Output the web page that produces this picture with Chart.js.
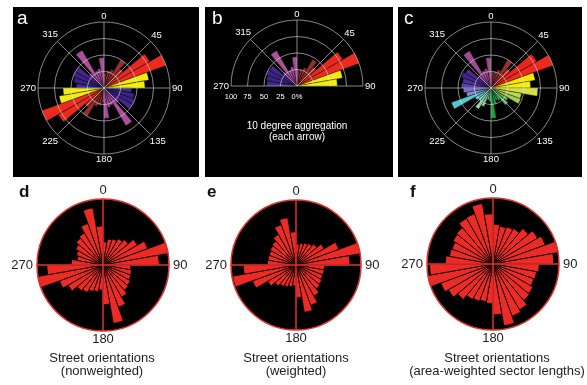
<!DOCTYPE html>
<html lang="en">
<head>
<meta charset="utf-8">
<title>Street orientation roses</title>
<script src="https://cdn.jsdelivr.net/npm/chart.js@4.4.1/dist/chart.umd.min.js"></script>
<style>
  html, body { margin: 0; padding: 0; background: #fff; }
  body { position: relative; width: 587px; height: 385px; overflow: hidden;
         font-family: "Liberation Sans", Arial, Helvetica, sans-serif; }
  .box { position: absolute; }
  .box canvas { position: absolute; left: 0; top: 0; }
  .dark { background: #000; }
  .txt { position: absolute; white-space: nowrap; line-height: 1; }
  .mid { transform: translate(-50%, -50%); text-align: center; }
  .tag { font-size: 19px; color: #fff; }
  .tagb { font-size: 17px; font-weight: bold; color: #111; }
  .cap { font-size: 13px; color: #222; }
  .note { font-size: 10px; color: #fff; }
</style>
</head>
<body>
<div class="box dark" style="left:13px;top:7px;width:186px;height:170px"><canvas id="roseA" width="186" height="170"></canvas></div>
<div class="box dark" style="left:205px;top:7px;width:188px;height:170px"><canvas id="roseB" width="188" height="170"></canvas></div>
<div class="box dark" style="left:398px;top:7px;width:184px;height:170px"><canvas id="roseC" width="184" height="170"></canvas></div>
<div class="box" style="left:8px;top:180px;width:190px;height:170px"><canvas id="roseD" width="190" height="170"></canvas></div>
<div class="box" style="left:201px;top:180px;width:190px;height:170px"><canvas id="roseE" width="190" height="170"></canvas></div>
<div class="box" style="left:398px;top:180px;width:189px;height:170px"><canvas id="roseF" width="189" height="170"></canvas></div>

<div class="txt tag" style="left:17px;top:8px">a</div>
<div class="txt tag" style="left:212px;top:8px">b</div>
<div class="txt tag" style="left:404px;top:8px">c</div>
<div class="txt tagb" style="left:19px;top:183px">d</div>
<div class="txt tagb" style="left:207px;top:183px">e</div>
<div class="txt tagb" style="left:410px;top:183px">f</div>

<div class="txt note mid" style="left:297px;top:126px">10 degree aggregation</div>
<div class="txt note mid" style="left:297px;top:137px">(each arrow)</div>

<div class="txt cap mid" style="left:102px;top:357px">Street orientations</div>
<div class="txt cap mid" style="left:102px;top:370px">(nonweighted)</div>
<div class="txt cap mid" style="left:296px;top:357px">Street orientations</div>
<div class="txt cap mid" style="left:296px;top:370px">(weighted)</div>
<div class="txt cap mid" style="left:497px;top:357px">Street orientations</div>
<div class="txt cap mid" style="left:497px;top:370px">(area-weighted sector lengths)</div>

<script>
// 10-degree bins, labelled by their starting bearing (clockwise from north)
const bins = ['0','10','20','30','40','50','60','70','80','90','100','110',
              '120','130','140','150','160','170','180','190','200','210','220','230',
              '240','250','260','270','280','290','300','310','320','330','340','350'];

// bearing ticks and radial ticks
const compassTicks = [0, 45, 90, 135, 180, 225, 270, 315];
const halfCompassTicks = [270, 315, 0, 45, 90];
const cardinalTicks = [0, 90, 180, 270];
const ringTicks = [25, 50, 75, 100];
const percentTicks = [100, 75, 50, 25, 0];

// share of the largest bin, in percent
const roseAll = [22, 27, 30, 50, 38, 80, 100, 69, 62, 42, 47, 50, 50, 30, 66, 28, 30, 46,
                 22, 27, 30, 50, 38, 80, 100, 69, 62, 42, 47, 50, 50, 30, 66, 28, 30, 46];
const roseHalf = [24, 26, 30, 47, 38, 80, 100, 70, 61, null, null, null, null, null, null, null, null, null,
                  null, null, null, null, null, null, null, null, null, 46, 47, 50, 48, 28, 62, 26, 30, 44];
const roseDirectional = [24, 26, 30, 50, 38, 80, 100, 68, 60, 71, 47, 48, 30, 34, 22, 20, 25, 46,
                         20, 18, 30, 37, 25, 28, 64, 38, 42, 45, 44, 48, 45, 25, 65, 28, 30, 46];

const streetNonweighted = [35, 40, 42, 46, 50, 60, 72, 100, 85, 42, 44, 45, 48, 50, 56, 68, 90, 60,
                           38, 41, 43, 48, 51, 61, 70, 100, 85, 48, 40, 43, 48, 53, 56, 67, 88, 59];
const streetWeighted = [32, 34, 36, 38, 42, 50, 70, 100, 83, 44, 44, 44, 46, 48, 55, 66, 74, 50,
                        32, 34, 36, 38, 42, 50, 71, 99, 81, 44, 44, 44, 46, 48, 54, 66, 74, 51];
const streetAreaWeighted = [60, 58, 60, 62, 70, 78, 84, 100, 92, 70, 67, 66, 70, 72, 80, 84, 95, 77,
                            60, 58, 60, 62, 70, 78, 84, 100, 96, 72, 67, 66, 70, 72, 80, 81, 93, 76];

// fills per bin
const axialColors = ['#7c2448', '#86283a', '#8e2c2e', '#962e2a', '#a83028', '#e52a1f', '#ec2b1f', '#f0ec12', '#f3ef00',
                     '#3f2a8c', '#3a2586', '#3b2282', '#432688', '#6a3292', '#ad4f9a', '#a84c96', '#a24892', '#a64c98',
                     '#7c2448', '#86283a', '#8e2c2e', '#962e2a', '#a83028', '#e52a1f', '#ec2b1f', '#f0ec12', '#f3ef00',
                     '#3f2a8c', '#3a2586', '#3b2282', '#432688', '#6a3292', '#ad4f9a', '#a84c96', '#a24892', '#a64c98'];
const hueColors = ['#7a2a55', '#7e2a3a', '#8a2c2c', '#96302a', '#b8302a', '#e8261c', '#ee2a1e', '#f2ea00', '#f5f000',
                   '#d2e040', '#c0d850', '#a8cc50', '#60b84a', '#50b060', '#3aa85a', '#2aa050', '#20a048', '#18a040',
                   '#40b070', '#6ec88c', '#82d09c', '#90d4a8', '#70c8c0', '#5ac8cc', '#50c8d0', '#8c8cd8', '#7a70c8',
                   '#5a44a8', '#4a3296', '#42288c', '#4a2a8c', '#6a3490', '#a04a96', '#a8508e', '#9a4080', '#a04a90'];
const streetRed = '#ec2b26';

// grid, disk and bearing labels drawn from the radial scale's own geometry
const roseFrame = {
  id: 'roseFrame',
  beforeDatasetsDraw(chart, args, o) {
    if (!o.disk) return;
    const s = chart.scales.r, ctx = chart.ctx;
    ctx.save();
    ctx.fillStyle = o.disk;
    ctx.beginPath();
    ctx.arc(s.xCenter, s.yCenter, s.getDistanceFromCenterForValue(s.max), 0, Math.PI * 2);
    ctx.fill();
    ctx.restore();
  },
  afterDatasetsDraw(chart, args, o) {
    const s = chart.scales.r, ctx = chart.ctx;
    const cx = s.xCenter, cy = s.yCenter;
    const R = s.getDistanceFromCenterForValue(s.max);
    const a0 = o.half ? Math.PI : 0;
    ctx.save();
    ctx.strokeStyle = o.color;
    ctx.lineWidth = o.width;
    o.rings.forEach(v => {
      ctx.beginPath();
      ctx.arc(cx, cy, s.getDistanceFromCenterForValue(v), a0, Math.PI * 2);
      ctx.stroke();
    });
    o.spokes.forEach(deg => {
      const t = deg * Math.PI / 180;
      ctx.beginPath();
      ctx.moveTo(cx, cy);
      ctx.lineTo(cx + R * Math.sin(t), cy - R * Math.cos(t));
      ctx.stroke();
    });
    ctx.fillStyle = o.labelColor;
    ctx.font = o.font;
    ctx.textAlign = 'center';
    ctx.textBaseline = 'middle';
    o.labels.forEach(deg => {
      const text = String(deg);
      const t = deg * Math.PI / 180;
      const sx = Math.sin(t), sy = -Math.cos(t);
      const hw = ctx.measureText(text).width / 2;
      const d = R + o.gap + Math.abs(sx) * hw + Math.abs(sy) * o.capHalf;
      ctx.fillText(text, cx + sx * d, cy + sy * d);
    });
    if (o.radialLabels) {
      ctx.font = o.radialFont;
      o.radialLabels.forEach(v => {
        const text = v === 0 ? '0%' : String(v);
        ctx.fillText(text, cx - s.getDistanceFromCenterForValue(v), cy + o.radialOffset);
      });
    }
    ctx.restore();
  }
};

function rose(id, values, fills, border, borderWidth, padding, frame) {
  return new Chart(document.getElementById(id), {
    type: 'polarArea',
    data: {
      labels: bins,
      datasets: [{ data: values, backgroundColor: fills, borderColor: border, borderWidth: borderWidth }]
    },
    options: {
      responsive: false,
      animation: false,
      devicePixelRatio: 1,
      layout: { padding: padding },
      plugins: { legend: { display: false }, tooltip: { enabled: false }, roseFrame: frame },
      scales: {
        r: {
          min: 0, max: 100, startAngle: 0,
          ticks: { display: false, stepSize: 25 },
          grid: { display: false },
          angleLines: { display: false },
          pointLabels: { display: false }
        }
      }
    },
    plugins: [roseFrame]
  });
}

const darkGrid = {
  rings: ringTicks, spokes: compassTicks, labels: compassTicks, half: false,
  color: 'rgba(225,225,225,0.75)', width: 0.8, labelColor: '#fff',
  font: '9.5px "Liberation Sans", Arial, sans-serif', gap: 2, capHalf: 3.5
};
const streetFrame = {
  disk: '#000', rings: [100], spokes: cardinalTicks, labels: cardinalTicks, half: false,
  color: '#e4302a', width: 1.5, labelColor: '#222',
  font: '13px "Liberation Sans", Arial, sans-serif', gap: 4, capHalf: 4.7
};

rose('roseA', roseAll, axialColors, '#000', 0.35, { left: 25, top: 15, right: 29, bottom: 23 }, darkGrid);
rose('roseB', roseHalf, axialColors, '#000', 0.35, { left: 26, top: 13, right: 30, bottom: 25 },
  Object.assign({}, darkGrid, {
    half: true, spokes: halfCompassTicks, labels: halfCompassTicks,
    radialLabels: percentTicks, radialFont: '7.5px "Liberation Sans", Arial, sans-serif', radialOffset: 11
  }));
rose('roseC', roseDirectional, hueColors, '#000', 0.35, { left: 27, top: 15, right: 25, bottom: 23 }, darkGrid);
rose('roseD', streetNonweighted, streetRed, '#000', 0.8, { left: 29, top: 19, right: 29, bottom: 19 }, streetFrame);
rose('roseE', streetWeighted, streetRed, '#000', 0.8, { left: 30, top: 20, right: 30, bottom: 20 }, streetFrame);
rose('roseF', streetAreaWeighted, streetRed, '#000', 0.8, { left: 29, top: 18, right: 28, bottom: 20 }, streetFrame);
</script>
</body>
</html>
